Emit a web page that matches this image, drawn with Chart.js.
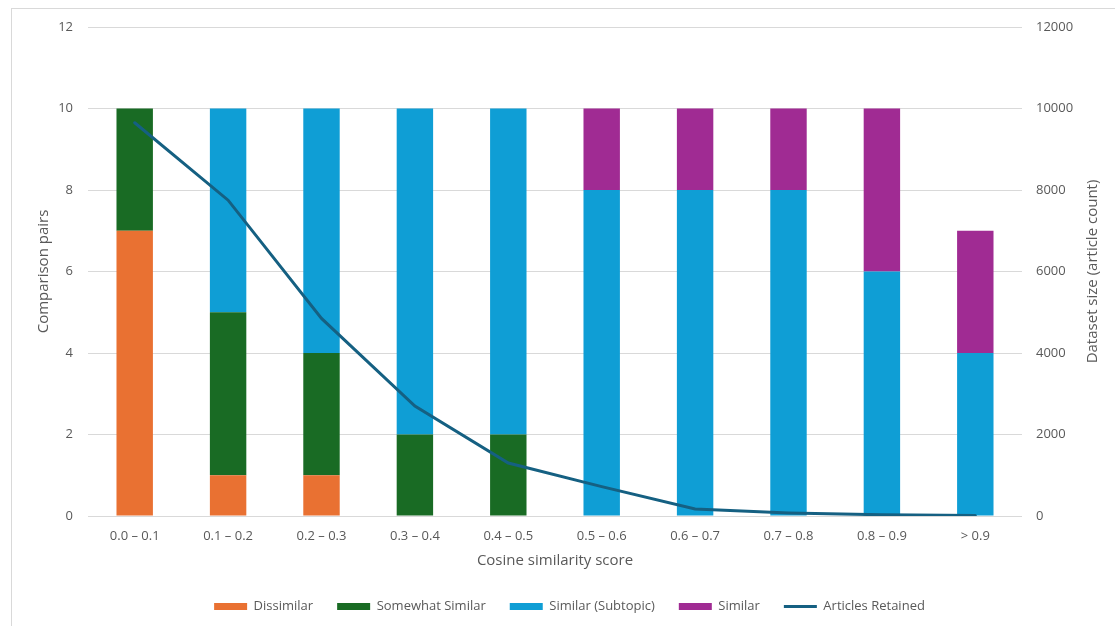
<!DOCTYPE html>
<html>
<head>
<meta charset="utf-8">
<script src="https://cdn.jsdelivr.net/npm/chart.js@4.4.1/dist/chart.umd.min.js"></script>
<style>
  html, body { margin: 0; padding: 0; background: #fff; overflow: hidden; }
  #frame {
    position: absolute; left: 11px; top: 8px;
    width: 1200px; height: 700px;
    border: 1px solid #d9d9d9;
  }
  #wrap { position: absolute; left: 0; top: 0; width: 1115px; height: 626px; }
</style>
</head>
<body>
<div id="frame"></div>
<div id="wrap"><canvas id="simChart"></canvas></div>
<script>
// Score buckets and counts per bucket
const scoreBuckets = ["0.0 – 0.1", "0.1 – 0.2", "0.2 – 0.3", "0.3 – 0.4", "0.4 – 0.5",
  "0.5 – 0.6", "0.6 – 0.7", "0.7 – 0.8", "0.8 – 0.9", "> 0.9"];
const dissimilar = [7, 1, 1, 0, 0, 0, 0, 0, 0, 0];
const somewhatSimilar = [3, 4, 3, 2, 2, 0, 0, 0, 0, 0];
const similarSubtopic = [0, 5, 6, 8, 8, 8, 8, 8, 6, 4];
const similar = [0, 0, 0, 0, 0, 2, 2, 2, 4, 3];
const articlesRetained = [9650, 7750, 4850, 2700, 1300, 720, 170, 75, 30, 15];

const pairTicks = [0, 2, 4, 6, 8, 10, 12];
const sizeTicks = [0, 2000, 4000, 6000, 8000, 10000, 12000];

const textGray = "#595959";
const gridGray = "#d9d9d9";
const fontFamily = "'Open Sans', 'Liberation Sans', sans-serif";

// right axis title reads bottom-to-top, so draw it by hand
const rightTitle = {
  id: "rightTitle",
  afterDraw(chart) {
    const ctx = chart.ctx;
    const area = chart.chartArea;
    ctx.save();
    ctx.translate(1093, (area.top + area.bottom) / 2);
    ctx.rotate(-Math.PI / 2);
    ctx.fillStyle = textGray;
    ctx.font = "15px " + fontFamily;
    ctx.textAlign = "center";
    ctx.textBaseline = "middle";
    ctx.fillText("Dataset size (article count)", 0, 0);
    ctx.restore();
  },
};

// nudge the legend a little to the right of the plot centre
const legendShift = {
  id: "legendShift",
  afterLayout(chart) {
    if (chart.legend) {
      chart.legend.left += 12;
      chart.legend.right += 12;
    }
  },
};

function barSet(label, data, color) {
  return {
    type: "bar",
    label: label,
    data: data,
    backgroundColor: color,
    borderWidth: 0,
    yAxisID: "y",
    order: 1,
    barPercentage: 0.39,
    categoryPercentage: 1,
  };
}

const ctx = document.getElementById("simChart").getContext("2d");

new Chart(ctx, {
  data: {
    labels: scoreBuckets,
    datasets: [
      barSet("Dissimilar", dissimilar, "#E97132"),
      barSet("Somewhat Similar", somewhatSimilar, "#196B24"),
      barSet("Similar (Subtopic)", similarSubtopic, "#0F9ED5"),
      barSet("Similar", similar, "#A02B93"),
      {
        type: "line",
        label: "Articles Retained",
        data: articlesRetained,
        borderColor: "#156082",
        backgroundColor: "#156082",
        borderWidth: 3,
        borderCapStyle: "round",
        pointRadius: 0,
        tension: 0,
        yAxisID: "y2",
        order: 0,
      },
    ],
  },
  options: {
    responsive: true,
    maintainAspectRatio: false,
    animation: false,
    layout: { padding: { top: 27, left: 0, right: 0, bottom: 3 } },
    plugins: {
      tooltip: { enabled: false },
      legend: {
        position: "bottom",
        labels: {
          usePointStyle: true,
          pointStyleWidth: 33,
          boxHeight: 7,
          padding: 24,
          color: textGray,
          font: { family: fontFamily, size: 13 },
          sort: (a, b) => a.datasetIndex - b.datasetIndex,
          generateLabels(chart) {
            const items = Chart.defaults.plugins.legend.labels.generateLabels(chart);
            items.forEach((it) => {
              it.pointStyle = chart.data.datasets[it.datasetIndex].type === "line" ? "line" : "rect";
            });
            return items;
          },
        },
      },
    },
    scales: {
      x: {
        stacked: true,
        grid: { display: false, drawTicks: false },
        border: { display: false },
        ticks: { color: textGray, font: { family: fontFamily, size: 13 }, padding: 12 },
        title: {
          display: true,
          text: "Cosine similarity score",
          color: textGray,
          font: { family: fontFamily, size: 15 },
          padding: { top: 0, bottom: 6 },
        },
        afterFit(scale) { scale.height = 60; },
      },
      y: {
        stacked: true,
        position: "left",
        min: 0,
        max: 12,
        afterBuildTicks(scale) { scale.ticks = pairTicks.map((v) => ({ value: v })); },
        grid: { color: gridGray, drawTicks: false },
        border: { display: false },
        ticks: { color: textGray, font: { family: fontFamily, size: 13 }, padding: 15 },
        title: {
          display: true,
          text: "Comparison pairs",
          color: textGray,
          font: { family: fontFamily, size: 15 },
          padding: { top: 35, bottom: 0 },
        },
        afterFit(scale) { scale.width = 88; },
      },
      y2: {
        position: "right",
        min: 0,
        max: 12000,
        afterBuildTicks(scale) { scale.ticks = sizeTicks.map((v) => ({ value: v })); },
        grid: { display: false, drawTicks: false },
        border: { display: false },
        ticks: {
          color: textGray,
          font: { family: fontFamily, size: 13 },
          padding: 14,
          callback: (v) => String(v),
        },
        afterFit(scale) { scale.width = 93; },
      },
    },
  },
  plugins: [rightTitle, legendShift],
});
</script>
</body>
</html>
